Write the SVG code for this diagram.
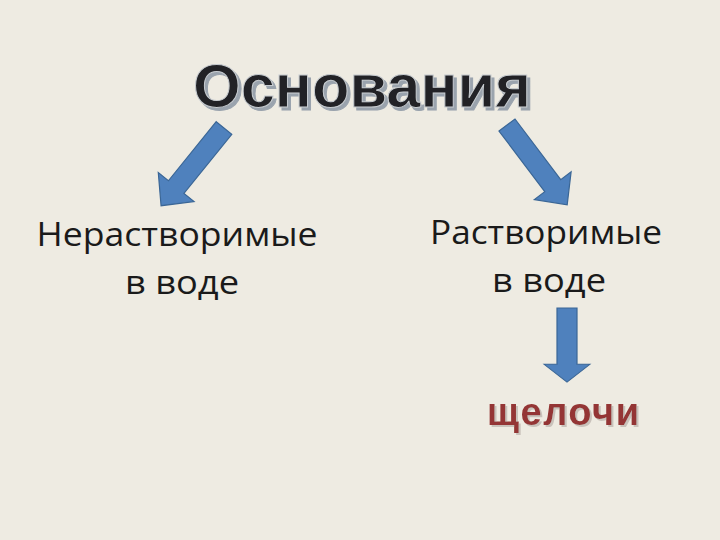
<svg xmlns="http://www.w3.org/2000/svg" width="720" height="540" viewBox="0 0 720 540">
<style>
.t{font-family:"Open Sans","Liberation Sans",sans-serif;font-size:32px;fill:#1a1a1a;text-anchor:middle}
.arr{fill:#4f81bd;stroke:#3a6696;stroke-width:1.2}
</style>
<defs>
<path id="a" d="M-10,0 L10,0 L10,76 L23,76 L0,100 L-23,76 L-10,76 Z"/>
<filter id="sh" x="-10%" y="-20%" width="120%" height="140%">
<feOffset in="SourceAlpha" dx="3" dy="3" result="o"/>
<feFlood flood-color="#9aa3ad"/><feComposite in2="o" operator="in" result="s"/>
<feMerge><feMergeNode in="s"/><feMergeNode in="SourceGraphic"/></feMerge>
</filter>
<filter id="sh2" x="-10%" y="-20%" width="120%" height="140%">
<feOffset in="SourceAlpha" dx="2" dy="2" result="o"/>
<feFlood flood-color="#c9c2bb"/><feComposite in2="o" operator="in" result="s"/>
<feMerge><feMergeNode in="s"/><feMergeNode in="SourceGraphic"/></feMerge>
</filter>
</defs>
<rect width="720" height="540" fill="#eeebe2"/>
<g id="title" filter="url(#sh)">
<text x="362" y="107" text-anchor="middle" font-family="Liberation Sans,Arial,sans-serif" font-weight="bold" font-size="62" fill="#222428" stroke="#c8ccd0" stroke-width="1" textLength="338" lengthAdjust="spacingAndGlyphs">Основания</text>
</g>
<g id="left"><text class="t" x="177" y="246" textLength="281" lengthAdjust="spacingAndGlyphs">Нерастворимые</text><text class="t" x="182" y="294" textLength="114" lengthAdjust="spacingAndGlyphs">в воде</text></g>
<g id="right"><text class="t" x="546" y="244" textLength="232" lengthAdjust="spacingAndGlyphs">Растворимые</text><text class="t" x="549" y="292" textLength="114" lengthAdjust="spacingAndGlyphs">в воде</text></g>
<g id="alkali" filter="url(#sh2)">
<text x="563" y="425" text-anchor="middle" font-family="Liberation Sans,Arial,sans-serif" font-weight="bold" font-size="38" fill="#943634" textLength="152">щелочи</text>
</g>
<g id="connectors">
<use href="#a" class="arr" transform="translate(224,128) rotate(39)"/>
<use href="#a" class="arr" transform="translate(507,125) rotate(-37)"/>
<use href="#a" class="arr" transform="translate(567,308) scale(1,0.74)"/>
</g>
</svg>
